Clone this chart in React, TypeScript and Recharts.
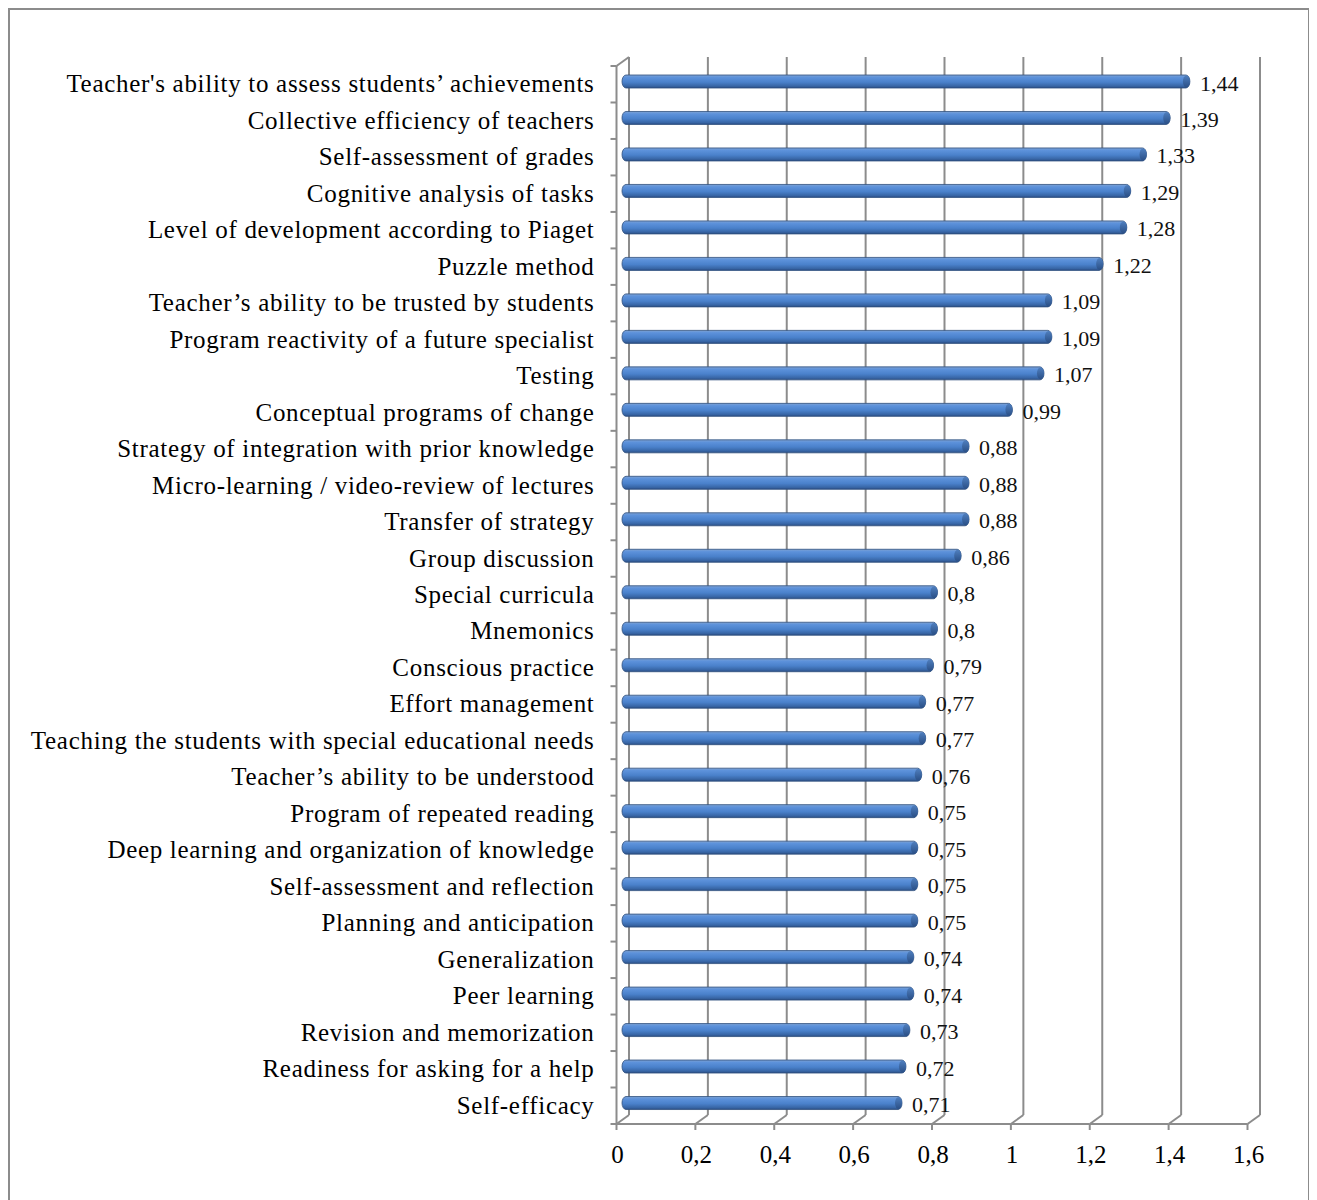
import { Bar, BarChart, CartesianGrid, LabelList, XAxis, YAxis } from "recharts";

const categories = [
  "Teacher's ability to assess students’ achievements",
  "Collective efficiency of teachers",
  "Self-assessment of grades",
  "Cognitive analysis of tasks",
  "Level of development according to Piaget",
  "Puzzle method",
  "Teacher’s ability to be trusted by students",
  "Program reactivity of a future specialist",
  "Testing",
  "Conceptual programs of change",
  "Strategy of integration with prior knowledge",
  "Micro-learning / video-review of lectures",
  "Transfer of strategy",
  "Group discussion",
  "Special curricula",
  "Mnemonics",
  "Conscious practice",
  "Effort management",
  "Teaching the students with special educational needs",
  "Teacher’s ability to be understood",
  "Program of repeated reading",
  "Deep learning and organization of knowledge",
  "Self-assessment and reflection",
  "Planning and anticipation",
  "Generalization",
  "Peer learning",
  "Revision and memorization",
  "Readiness for asking for a help",
  "Self-efficacy",
];

const values = [
  1.44, 1.39, 1.33, 1.29, 1.28, 1.22, 1.09, 1.09, 1.07, 0.99, 0.88, 0.88, 0.88, 0.86, 0.8, 0.8,
  0.79, 0.77, 0.77, 0.76, 0.75, 0.75, 0.75, 0.75, 0.74, 0.74, 0.73, 0.72, 0.71,
];

const xTicks = [0, 0.2, 0.4, 0.6, 0.8, 1, 1.2, 1.4, 1.6];

const data = categories.map((name, i) => ({ name, value: values[i] }));

// layout (chart coords)
const W = 1298;
const H = 1190;
const TOP = 53;
const LEFT = 612;
const RIGHT = 55;
const XAXIS_H = 79;
const PLOT_W = W - LEFT - RIGHT;
const PLOT_H = H - TOP - XAXIS_H;
const BAND = PLOT_H / categories.length;

// 3d offsets: front wall and back wall relative to bar plane
const FDX = -5.5;
const FDY = 3;
const BDX = 7;
const BDY = -6;

const GRID = "#8c8c8c";
const FONT = '"Liberation Serif", "Times New Roman", serif';

const fmt = (v: number) => String(v).replace(".", ",");

function XTick(props: any) {
  const { x, y, payload, index } = props;
  const fx = x + FDX;
  const fy = y + FDY;
  const step = PLOT_W / (xTicks.length - 1);
  return (
    <g>
      {index < xTicks.length - 1 && (
        <line x1={fx} y1={fy} x2={fx + step} y2={fy} stroke={GRID} strokeWidth={2} />
      )}
      <line x1={fx} y1={fy} x2={fx} y2={fy + 6} stroke={GRID} strokeWidth={2} />
      <line x1={fx} y1={fy} x2={x + BDX} y2={y + BDY} stroke={GRID} strokeWidth={2} />
      <text x={fx + 1} y={y + 42} textAnchor="middle" fontSize={25} fontFamily={FONT} fill="#000">
        {fmt(payload.value)}
      </text>
    </g>
  );
}

function YTick(props: any) {
  const { x, y, payload, index } = props;
  const fx = x + FDX;
  const fy = y + FDY;
  return (
    <g>
      {index === 0 && (
        <g>
          <line x1={fx} y1={TOP + FDY} x2={fx} y2={TOP + PLOT_H + FDY} stroke={GRID} strokeWidth={2} />
          <line x1={fx} y1={TOP + FDY} x2={fx - 6} y2={TOP + FDY} stroke={GRID} strokeWidth={2} />
          <line x1={fx} y1={TOP + FDY} x2={x + BDX} y2={TOP + BDY} stroke={GRID} strokeWidth={2} />
        </g>
      )}
      <line x1={fx} y1={fy + BAND / 2} x2={fx - 6} y2={fy + BAND / 2} stroke={GRID} strokeWidth={2} />
      <text
        x={fx - 22}
        y={fy + 8}
        textAnchor="end"
        fontSize={25}
        fontFamily={FONT}
        letterSpacing={0.7}
        fill="#000"
      >
        {payload.value}
      </text>
    </g>
  );
}

function BackLine(props: any) {
  const { x1, y1, x2, y2 } = props;
  return (
    <line
      x1={x1 + BDX}
      y1={y1 + BDY}
      x2={x2 + BDX}
      y2={y2 + BDY}
      stroke={GRID}
      strokeWidth={2}
    />
  );
}

function Cylinder(props: any) {
  const { x, y, width, height } = props;
  const r = height / 2;
  return (
    <g>
      <rect
        x={x}
        y={y}
        width={width}
        height={height}
        rx={4}
        ry={r}
        fill="url(#barGrad)"
        stroke="#2f4f7d"
        strokeWidth={0.8}
      />
      <ellipse cx={x + width - 3.5} cy={y + r} rx={3.5} ry={r - 0.5} fill="url(#capGrad)" />
    </g>
  );
}

function ValueLabel(props: any) {
  const { x, y, width, height, value } = props;
  return (
    <text
      x={x + width + 10}
      y={y + height / 2 + 9}
      fontSize={22}
      fontFamily={FONT}
      fill="#111"
    >
      {fmt(value)}
    </text>
  );
}

export default function App() {
  return (
    <div
      style={{
        width: W,
        height: H,
        border: `2px solid ${GRID}`,
        background: "#fff",
      }}
    >
      <style>{"html,body{overflow:hidden}"}</style>
      <BarChart
        width={W}
        height={H}
        data={data}
        layout="vertical"
        margin={{ top: TOP, right: RIGHT, bottom: 0, left: 0 }}
        barCategoryGap={0}
      >
        <defs>
          <linearGradient id="barGrad" x1="0" y1="0" x2="0" y2="1">
            <stop offset="0%" stopColor="#7fa3d3" />
            <stop offset="18%" stopColor="#5d92db" />
            <stop offset="55%" stopColor="#4a81cb" />
            <stop offset="85%" stopColor="#3866a6" />
            <stop offset="100%" stopColor="#2b4e84" />
          </linearGradient>
          <linearGradient id="capGrad" x1="0" y1="0" x2="0" y2="1">
            <stop offset="0%" stopColor="#4f7fbf" />
            <stop offset="100%" stopColor="#2a4f86" />
          </linearGradient>
        </defs>
        <CartesianGrid horizontal={false} vertical={BackLine} />
        <XAxis
          type="number"
          domain={[0, 1.6]}
          ticks={xTicks}
          height={XAXIS_H}
          axisLine={false}
          tickLine={false}
          tickSize={0}
          tickMargin={0}
          tick={XTick}
          interval={0}
        />
        <YAxis
          type="category"
          dataKey="name"
          width={LEFT}
          axisLine={false}
          tickLine={false}
          tickSize={0}
          tickMargin={0}
          tick={YTick}
          interval={0}
        />
        <Bar dataKey="value" barSize={13} shape={Cylinder} isAnimationActive={false}>
          <LabelList dataKey="value" content={ValueLabel} />
        </Bar>
      </BarChart>
    </div>
  );
}
